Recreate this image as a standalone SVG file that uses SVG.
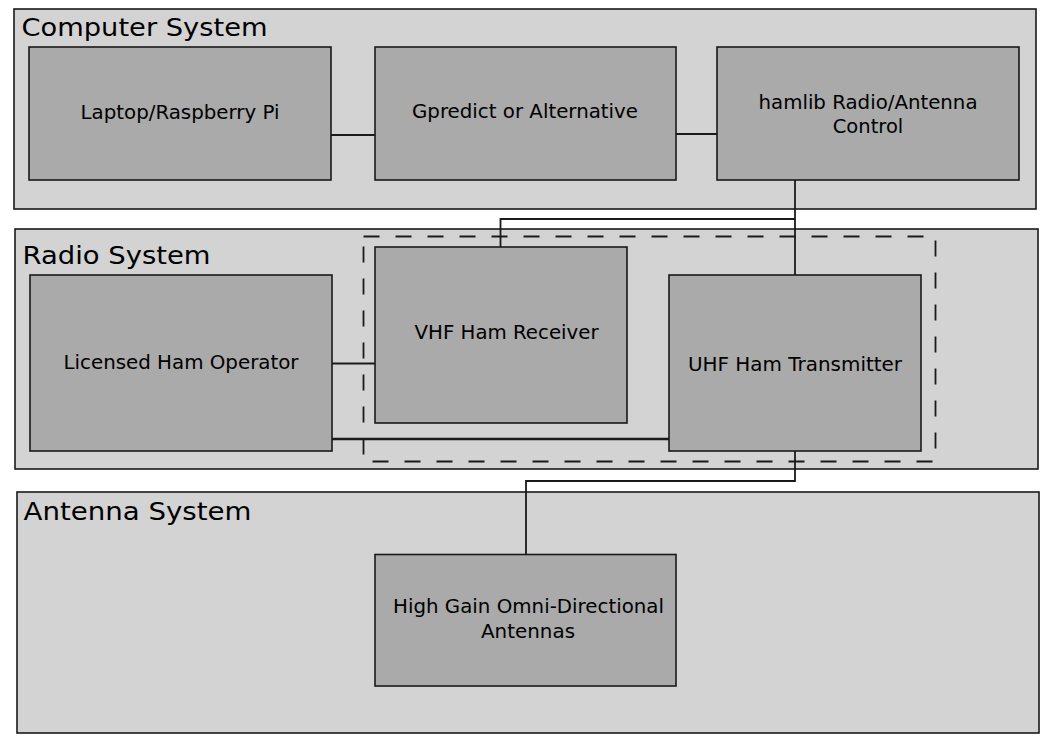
<svg xmlns="http://www.w3.org/2000/svg" width="1053" height="745" viewBox="0 0 1053 745">
<style>
.container{fill:#d3d3d3;stroke:#1a1a1a;stroke-width:1.6}
.node{fill:#aaaaaa;stroke:#1a1a1a;stroke-width:1.6}
.title{font-family:"DejaVu Sans","Noto Sans",sans-serif;font-size:25.5px;fill:#000}
.label{font-family:"DejaVu Sans","Noto Sans",sans-serif;font-size:19.3px;fill:#000;text-anchor:middle}
.conn{fill:none;stroke:#1a1a1a;stroke-width:1.8}
.group{fill:none;stroke:#1a1a1a;stroke-width:1.8;stroke-dasharray:16 16}
</style>
<rect width="1053" height="745" fill="#ffffff"/>
<g id="computer-system">
<rect class="container" x="14" y="9" width="1022" height="200"/>
<text class="title" x="21.5" y="36" textLength="246" lengthAdjust="spacingAndGlyphs">Computer System</text>
</g>
<g id="radio-system">
<rect class="container" x="15" y="229" width="1023" height="240"/>
<text class="title" x="22.5" y="264" textLength="188" lengthAdjust="spacingAndGlyphs">Radio System</text>
<rect class="group" x="363.5" y="236.5" width="572" height="225"/>
</g>
<g id="antenna-system">
<rect class="container" x="17" y="492" width="1022" height="241"/>
<text class="title" x="23.5" y="520" textLength="228" lengthAdjust="spacingAndGlyphs">Antenna System</text>
</g>
<g id="connectors">
<path class="conn" d="M331,135 H375"/>
<path class="conn" d="M676,134 H717"/>
<path class="conn" d="M795,180 V275"/>
<path class="conn" d="M795,219 H500.5 V247"/>
<path class="conn" d="M332,363.5 H375"/>
<path class="conn" d="M331,439 H669" style="stroke-width:2.4"/>
<path class="conn" d="M795,451 V481 H526 V554.5"/>
</g>
<g id="laptop">
<rect class="node" x="29" y="47" width="302" height="133"/>
<text class="label" x="180" y="118.5" textLength="199" lengthAdjust="spacingAndGlyphs">Laptop/Raspberry Pi</text>
</g>
<g id="gpredict">
<rect class="node" x="375" y="47" width="301" height="133"/>
<text class="label" x="525" y="118" textLength="226" lengthAdjust="spacingAndGlyphs">Gpredict or Alternative</text>
</g>
<g id="hamlib">
<rect class="node" x="717" y="47" width="302" height="133"/>
<text class="label" x="868" y="109" textLength="219" lengthAdjust="spacingAndGlyphs">hamlib Radio/Antenna</text>
<text class="label" x="868" y="133" textLength="70.5" lengthAdjust="spacingAndGlyphs">Control</text>
</g>
<g id="operator">
<rect class="node" x="30" y="275" width="302" height="176"/>
<text class="label" x="181" y="369" textLength="235" lengthAdjust="spacingAndGlyphs">Licensed Ham Operator</text>
</g>
<g id="vhf-receiver">
<rect class="node" x="375" y="247" width="252" height="176"/>
<text class="label" x="506.5" y="339" textLength="184" lengthAdjust="spacingAndGlyphs">VHF Ham Receiver</text>
</g>
<g id="uhf-transmitter">
<rect class="node" x="669" y="275" width="252" height="176"/>
<text class="label" x="795" y="371" textLength="214" lengthAdjust="spacingAndGlyphs">UHF Ham Transmitter</text>
</g>
<g id="antennas">
<rect class="node" x="375" y="554.5" width="301" height="131.5"/>
<text class="label" x="528.5" y="613" textLength="271" lengthAdjust="spacingAndGlyphs">High Gain Omni-Directional</text>
<text class="label" x="528" y="637.5" textLength="94" lengthAdjust="spacingAndGlyphs">Antennas</text>
</g>
</svg>
